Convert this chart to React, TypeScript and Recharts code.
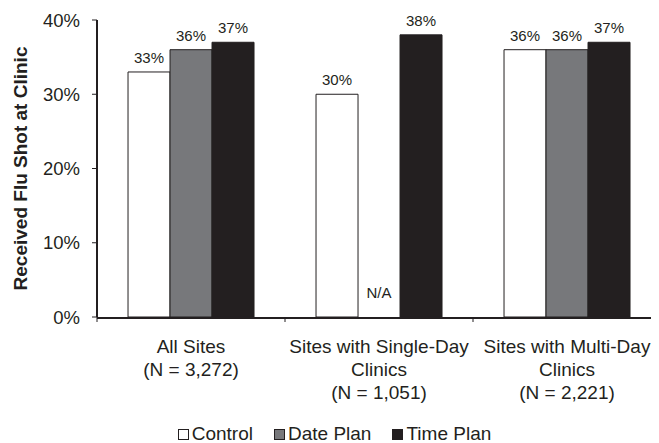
import React from "react";
import { BarChart, Bar, XAxis, YAxis, LabelList, Legend } from "recharts";

const categories = ["All Sites\n(N = 3,272)", "Sites with Single-Day\nClinics\n(N = 1,051)", "Sites with Multi-Day\nClinics\n(N = 2,221)"];
const controlValues = [33, 30, 36];
const datePlanValues: (number | null)[] = [36, null, 36];
const datePlanNotes = ["", "N/A", ""];
const timePlanValues = [37, 38, 37];
const yTicks = [0, 10, 20, 30, 40];
const edgeTicks = [0, 1, 2, 3];

const seriesNames = ["Control", "Date Plan", "Time Plan"];
const seriesColors = ["#ffffff", "#77787b", "#231f20"];
const INK = "#231f20";
const FONT = "'Liberation Sans', Arial, sans-serif";

const data = categories.map((c, i) => ({
  category: c,
  control: controlValues[i],
  datePlan: datePlanValues[i],
  dateNote: datePlanNotes[i],
  timePlan: timePlanValues[i],
}));

const CatTick = (props: any) => {
  const { x, y, payload } = props;
  const lines = String(payload.value).split("\n");
  return (
    <text x={x} y={y} textAnchor="middle" fill={INK} fontSize={19} fontFamily={FONT}>
      {lines.map((l, i) => (
        <tspan key={i} x={x} y={y + 34.7 + i * 23}>
          {l}
        </tspan>
      ))}
    </text>
  );
};

const ValueLabel = (props: any) => {
  const { x, y, width, value } = props;
  if (value === null || value === undefined || value === "") {
    return null;
  }
  return (
    <text x={x + width / 2} y={y - 9} textAnchor="middle" fill={INK} fontSize={15} fontFamily={FONT}>
      {`${value}%`}
    </text>
  );
};

// Note for a missing Date Plan bar, drawn in the slot just left of the Time Plan bar
const NoteLabel = (props: any) => {
  const { x, y, width, height, value } = props;
  if (!value) return null;
  return (
    <text x={x - width / 2} y={y + height - 19} textAnchor="middle" fill={INK} fontSize={15} fontFamily={FONT}>
      {value}
    </text>
  );
};

const LegendContent = () => (
  <div
    style={{
      display: "flex",
      justifyContent: "center",
      alignItems: "center",
      height: 20,
      fontFamily: FONT,
      fontSize: 19,
      color: INK,
      whiteSpace: "nowrap",
    }}
  >
    {seriesNames.map((n, i) => (
      <React.Fragment key={n}>
        {i > 0 ? <span style={{ display: "inline-block", width: 21 }} /> : null}
        <span
          style={{
            display: "inline-block",
            width: 9,
            height: 9,
            background: seriesColors[i],
            border: `1px solid ${INK}`,
            marginRight: 3,
          }}
        />
        <span>{n}</span>
      </React.Fragment>
    ))}
  </div>
);

export default function App() {
  return (
    <div style={{ width: 659, height: 443 }}>
      <BarChart
        width={659}
        height={443}
        data={data}
        margin={{ top: 12, right: 6, left: 0, bottom: 7 }}
        barCategoryGap="16.5%"
        barGap={0}
      >
        <XAxis
          xAxisId="cat"
          dataKey="category"
          height={106}
          tickLine={false}
          tickSize={0}
          tickMargin={0}
          axisLine={{ stroke: INK, strokeWidth: 2 }}
          tick={<CatTick />}
          interval={0}
        />
        <XAxis
          xAxisId="a0"
          type="number"
          dataKey={(d: any) => categories.indexOf(d.category)}
          domain={[0, 3]}
          ticks={edgeTicks}
          allowDataOverflow
          height={1}
          axisLine={false}
          tick={() => <g />}
          tickSize={5}
          tickLine={{ stroke: INK, strokeWidth: 1 }}
        />
        <YAxis
          width={89}
          domain={[0, 40]}
          ticks={yTicks}
          tickFormatter={(v: number) => `${v}%`}
          tickSize={5}
          tickMargin={12}
          axisLine={{ stroke: INK, strokeWidth: 2 }}
          tickLine={{ stroke: INK, strokeWidth: 1 }}
          tick={{ fill: INK, fontSize: 18.5, fontFamily: FONT }}
          label={{
            value: "Received Flu Shot at Clinic",
            angle: -90,
            position: "insideLeft",
            offset: 12,
            style: { textAnchor: "middle", fill: INK, fontSize: 19, fontWeight: "bold", fontFamily: FONT },
          }}
        />
        <Legend verticalAlign="bottom" content={<LegendContent />} />
        <Bar xAxisId="cat" dataKey="control" name="Control" fill={seriesColors[0]} stroke={INK} strokeWidth={1} isAnimationActive={false}>
          <LabelList dataKey="control" content={<ValueLabel />} />
        </Bar>
        <Bar xAxisId="cat" dataKey="datePlan" name="Date Plan" fill={seriesColors[1]} stroke={INK} strokeWidth={1} isAnimationActive={false}>
          <LabelList dataKey="datePlan" content={<ValueLabel />} />
        </Bar>
        <Bar xAxisId="cat" dataKey="timePlan" name="Time Plan" fill={seriesColors[2]} stroke={INK} strokeWidth={1} isAnimationActive={false}>
          <LabelList dataKey="timePlan" content={<ValueLabel />} />
          <LabelList dataKey="dateNote" content={<NoteLabel />} />
        </Bar>
      </BarChart>
    </div>
  );
}
